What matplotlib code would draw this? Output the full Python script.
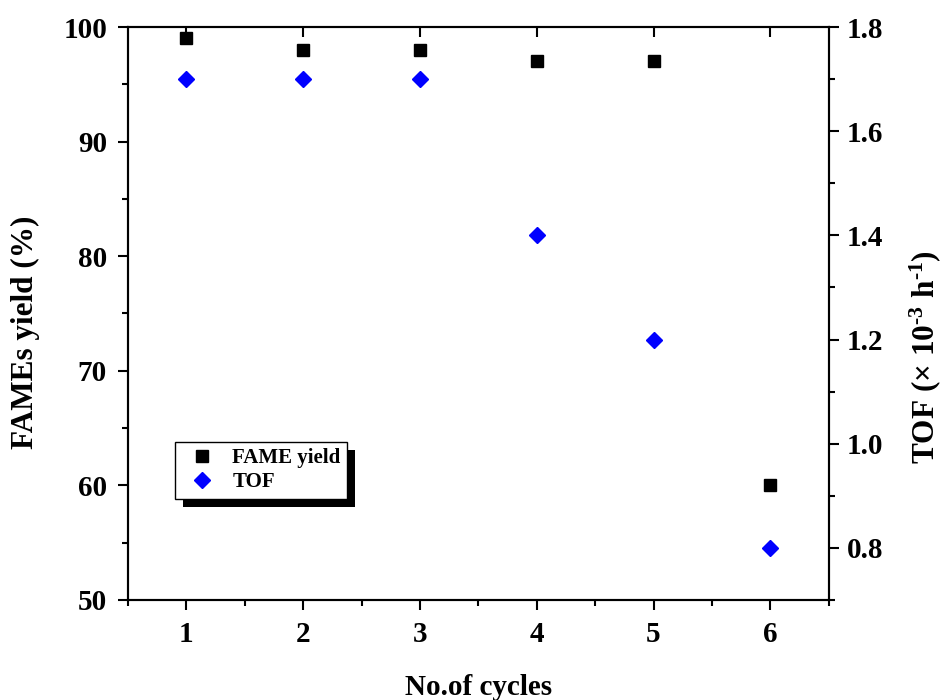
import matplotlib
matplotlib.use("Agg")
import matplotlib.pyplot as plt
from matplotlib.ticker import MultipleLocator, FormatStrFormatter
from matplotlib.patches import Rectangle
from matplotlib.lines import TICKDOWN

plt.rcParams['font.family'] = ['Liberation Serif', 'DejaVu Serif']
plt.rcParams['font.weight'] = 'bold'
plt.rcParams['mathtext.fontset'] = 'custom'
plt.rcParams['mathtext.rm'] = 'Liberation Serif:bold'
plt.rcParams['mathtext.bf'] = 'Liberation Serif:bold'
plt.rcParams['mathtext.it'] = 'Liberation Serif:italic:bold'
plt.rcParams['mathtext.default'] = 'regular'

cycles = [1, 2, 3, 4, 5, 6]
fame_yield = [99, 98, 98, 97, 97, 60]
tof = [1.7, 1.7, 1.7, 1.4, 1.2, 0.8]

fig = plt.figure(figsize=(9.45, 7.0), dpi=100)
ax = fig.add_axes([0.1354, 0.1429, 0.877 - 0.1354, 0.9614 - 0.1429])
ax2 = ax.twinx()

ax.plot(cycles, fame_yield, linestyle='none', marker='s', ms=8.5, color='black',
        label='FAME yield', zorder=3)
ax2.plot(cycles, tof, linestyle='none', marker='D', ms=8, color='#0000ff',
         label='TOF', zorder=3)

ax.set_xlim(0.5, 6.5)
ax.set_ylim(50, 100)
ax2.set_ylim(0.7, 1.8)

ax.xaxis.set_major_locator(MultipleLocator(1))
ax.xaxis.set_minor_locator(MultipleLocator(0.5))
ax.yaxis.set_major_locator(MultipleLocator(10))
ax.yaxis.set_minor_locator(MultipleLocator(5))
ax2.yaxis.set_major_locator(MultipleLocator(0.2))
ax2.yaxis.set_minor_locator(MultipleLocator(0.1))
ax2.yaxis.set_major_formatter(FormatStrFormatter('%.1f'))

for a in (ax, ax2):
    for s in a.spines.values():
        s.set_linewidth(1.5)

ax.tick_params(axis='both', which='major', direction='out', length=7, width=1.5,
               labelsize=21, pad=8)
ax.tick_params(axis='both', which='minor', direction='out', length=4, width=1.5)
ax2.tick_params(axis='y', which='major', direction='out', length=7, width=1.5,
                labelsize=21, pad=6)
ax2.tick_params(axis='y', which='minor', direction='out', length=4, width=1.5)

# inward ticks on the top spine at the major positions only
ax.tick_params(axis='x', which='major', top=True, labeltop=False)
ax.tick_params(axis='x', which='minor', top=False)
for t in ax.xaxis.get_major_ticks():
    t.tick2line.set_marker(TICKDOWN)
    t.tick2line.set_markersize(7)

ax.set_xlabel('No.of cycles', fontsize=21, fontweight='bold',
              va='center', ha='center')
ax.xaxis.set_label_coords(0.5, -0.1536)
ax.set_ylabel('FAMEs yield (%)', fontsize=22.5, fontweight='bold',
              va='center', ha='center')
ax.yaxis.set_label_coords(-0.146, 0.468)
ax2.set_ylabel('TOF (× 10$^{\\text{-3}}$ h$^{\\text{-1}}$)', fontsize=22.5,
               fontweight='bold', va='center', ha='center', rotation=90)
ax2.yaxis.set_label_coords(1.138, 0.424)

handles = ax.get_lines() + ax2.get_lines()
leg = ax.legend(handles, [h.get_label() for h in handles],
                loc='upper left', bbox_to_anchor=(0.0671, 0.276),
                prop={'family': 'Liberation Serif', 'weight': 'bold', 'size': 15},
                frameon=True, fancybox=False, shadow=False, framealpha=1,
                facecolor='white', edgecolor='black',
                handlelength=2.0, handletextpad=0.45, borderpad=0.3,
                labelspacing=0.2, borderaxespad=0)
leg.get_frame().set_linewidth(1.0)
leg.set_zorder(10)

# offset black drop shadow behind the legend box
fig.canvas.draw()
bb = leg.get_window_extent()
off = 8
shadow = Rectangle((bb.x0 + off, bb.y0 - off), bb.width, bb.height,
                   transform=None, facecolor='black', edgecolor='none', zorder=9)
ax.add_artist(shadow)

fig.savefig('out.png', dpi=100)
